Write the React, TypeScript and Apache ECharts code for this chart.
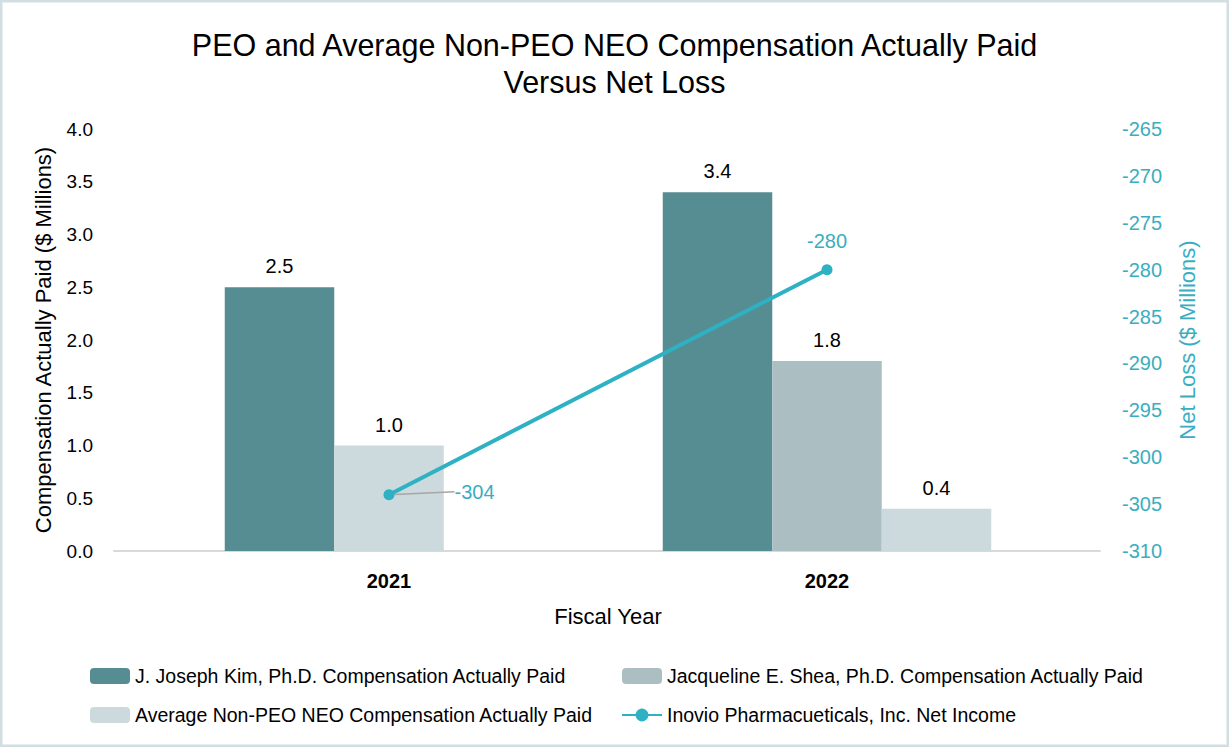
import React, { useEffect, useRef } from "react";
import * as echarts from "echarts";

const years = ["2021", "2022"];
const kimComp = [2.5, 3.4];
const sheaComp = [null, 1.8];
const avgComp = [1.0, 0.4];
const netIncome = [-304, -280];
const leftTicks = { min: 0, max: 4, interval: 0.5 };
const rightTicks = { min: -310, max: -265, interval: 5 };

const KIM = "J. Joseph Kim, Ph.D. Compensation Actually Paid";
const SHEA = "Jacqueline E. Shea, Ph.D. Compensation Actually Paid";
const AVG = "Average Non-PEO NEO Compensation Actually Paid";
const NET = "Inovio Pharmacueticals, Inc. Net Income";

const C_KIM = "#568d93";
const C_SHEA = "#abbec2";
const C_AVG = "#cddadd";
const C_LINE = "#2db1c3";
const C_RIGHT = "#3aaec0";
const FONT = "Liberation Sans, Arial, Helvetica, sans-serif";

export default function App() {
  const ref = useRef<HTMLDivElement>(null);
  useEffect(() => {
    if (!ref.current) return;
    const chart = echarts.init(ref.current, null, { renderer: "svg" });
    const barLabel = {
      show: true,
      position: "top",
      distance: 11,
      color: "#000",
      fontSize: 20,
      fontFamily: FONT,
      formatter: (p: any) => (p.value == null ? "" : Number(p.value).toFixed(1)),
    };
    const avgMid = avgComp.map((v, i) => (i === 0 ? v : null));
    const avgEnd = avgComp.map((v, i) => (i === 0 ? null : v));
    const legendCommon = {
      orient: "vertical",
      top: 666,
      padding: 0,
      itemWidth: 40,
      itemHeight: 16,
      itemGap: 19,
      textStyle: { fontSize: 19.5, color: "#000", fontFamily: FONT },
    };
    chart.setOption({
      animation: false,
      backgroundColor: "#ffffff",
      textStyle: { fontFamily: FONT },
      title: {
        text: "PEO and Average Non-PEO NEO Compensation Actually Paid\nVersus Net Loss",
        left: "center",
        top: 21,
        textStyle: { fontSize: 30.5, fontWeight: "normal", color: "#000", lineHeight: 37, fontFamily: FONT },
      },
      graphic: [
        {
          type: "rect",
          shape: { x: 0, y: 0, width: 1229, height: 747 },
          style: { fill: "none", stroke: "#d3dee2", lineWidth: 5 },
          silent: true,
          z: 100,
        },
      ],
      legend: [
        { ...legendCommon, left: 90, data: [KIM, AVG] },
        { ...legendCommon, left: 621, data: [SHEA, NET] },
      ],
      grid: [
        { left: 170, right: 183, top: 129, bottom: 196 },
        { left: 114, right: 129, top: 129, bottom: 196 },
      ],
      xAxis: [
        {
          type: "category",
          gridIndex: 0,
          data: years,
          axisLine: { show: false },
          axisTick: { show: false },
          axisLabel: { fontSize: 20, fontWeight: "bold", color: "#000", margin: 20, fontFamily: FONT },
          name: "Fiscal Year",
          nameLocation: "middle",
          nameGap: 54,
          nameTextStyle: { fontSize: 22, color: "#000", fontFamily: FONT },
        },
        {
          type: "value",
          gridIndex: 1,
          min: 0,
          max: 1,
          axisLine: { show: true, onZero: false, lineStyle: { color: "#d9d9d9", width: 2 } },
          axisTick: { show: false },
          axisLabel: { show: false },
          splitLine: { show: false },
        },
      ],
      yAxis: [
        {
          type: "value",
          gridIndex: 0,
          ...leftTicks,
          axisLine: { show: false },
          axisTick: { show: false },
          splitLine: { show: false },
          axisLabel: {
            fontSize: 19,
            color: "#000",
            margin: 77,
            fontFamily: FONT,
            formatter: (v: number) => v.toFixed(1),
          },
          name: "Compensation Actually Paid ($ Millions)",
          nameLocation: "middle",
          nameRotate: 90,
          nameGap: 116,
          nameTextStyle: { fontSize: 22, color: "#000", fontFamily: FONT },
        },
        {
          type: "value",
          gridIndex: 0,
          position: "right",
          ...rightTicks,
          axisLine: { show: false },
          axisTick: { show: false },
          splitLine: { show: false },
          axisLabel: { fontSize: 20, color: C_RIGHT, margin: 76, fontFamily: FONT },
          name: "Net Loss ($ Millions)",
          nameLocation: "middle",
          nameRotate: 90,
          nameGap: 130,
          nameTextStyle: { fontSize: 22, color: C_RIGHT, fontFamily: FONT },
        },
        {
          type: "value",
          gridIndex: 1,
          min: 0,
          max: 1,
          show: false,
        },
      ],
      series: [
        {
          name: KIM,
          type: "bar",
          xAxisIndex: 0,
          yAxisIndex: 0,
          data: kimComp,
          barWidth: "25%",
          barGap: "0%",
          itemStyle: { color: C_KIM },
          label: barLabel,
        },
        {
          name: SHEA,
          type: "bar",
          stack: "mid",
          xAxisIndex: 0,
          yAxisIndex: 0,
          data: sheaComp,
          barWidth: "25%",
          barGap: "0%",
          itemStyle: { color: C_SHEA },
          label: barLabel,
        },
        {
          name: AVG,
          type: "bar",
          stack: "mid",
          xAxisIndex: 0,
          yAxisIndex: 0,
          data: avgMid,
          barWidth: "25%",
          barGap: "0%",
          itemStyle: { color: C_AVG },
          label: barLabel,
        },
        {
          name: AVG,
          type: "bar",
          xAxisIndex: 0,
          yAxisIndex: 0,
          data: avgEnd,
          barWidth: "25%",
          barGap: "0%",
          itemStyle: { color: C_AVG },
          label: barLabel,
        },
        {
          name: NET,
          type: "line",
          xAxisIndex: 0,
          yAxisIndex: 1,
          data: netIncome.map((v, i) =>
            i === 0
              ? {
                  value: v,
                  label: { position: "right", distance: 5 },
                  labelLine: { show: true, lineStyle: { color: "#a6a6a6", width: 1.5 } },
                }
              : { value: v, label: { position: "top", distance: 13 } }
          ),
          symbol: "circle",
          symbolSize: 11,
          lineStyle: { color: C_LINE, width: 4 },
          itemStyle: { color: C_LINE },
          label: { show: true, color: C_RIGHT, fontSize: 20, fontFamily: FONT },
          labelLayout: (p: any) => (p.dataIndex === 0 ? { dx: 55, dy: -3 } : {}),
          z: 5,
        },
      ],
    });
    return () => chart.dispose();
  }, []);
  return (
    <div
      ref={ref}
      style={{ position: "fixed", left: 0, top: 0, width: 1229, height: 747 }}
    />
  );
}
